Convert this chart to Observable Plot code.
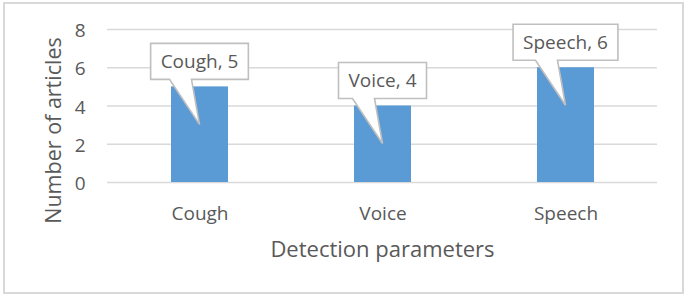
<!DOCTYPE html>
<html><head><meta charset="utf-8">
<script src="https://cdn.jsdelivr.net/npm/d3@7"></script>
<script src="https://cdn.jsdelivr.net/npm/@observablehq/plot@0.6"></script>
<style>
body{margin:0;background:#fff;}
#wrap{position:relative;width:688px;height:297px;overflow:hidden;}
#border{position:absolute;left:3px;top:2px;width:677px;height:288px;border:2px solid #d9d9d9;pointer-events:none;}
</style></head><body>
<div id="wrap"><div id="chart"></div><div id="border"></div></div>
<script>
const categories = ["Cough", "Voice", "Speech"];
const counts = [5, 4, 6];
const yTicks = [0, 2, 4, 6, 8];
const xTitle = "Detection parameters";
const yTitle = "Number of articles";

const data = categories.map((c, i) => ({category: c, count: counts[i], label: `${c}, ${counts[i]}`}));

const FONT = "'Open Sans', 'Noto Sans', sans-serif";
const TEXT = "#595959";
const CALLOUT_FS = 19;

function callouts(index, scales, values, dims) {
  const ctx = document.createElement("canvas").getContext("2d");
  ctx.font = `${CALLOUT_FS}px 'Open Sans'`;
  const g = d3.create("svg:g");
  const bw = scales.x.bandwidth ? scales.x.bandwidth() : 0;
  for (const d of data) {
    const cx = scales.x(d.category) + bw / 2;
    const yv = scales.y(d.count);
    const w = ctx.measureText(d.label).width + 20;
    const top = yv - 43, h = 36, bottom = top + h;
    const left = cx - w / 2, right = cx + w / 2;
    const tipY = yv + 38;
    const b1 = cx - 30, b2 = cx - 8;
    g.append("path")
      .attr("d", `M${left},${top}H${right}V${bottom}H${b2}L${cx},${tipY}L${b1},${bottom}H${left}Z`)
      .attr("fill", "#fff")
      .attr("stroke", "#bfbfbf")
      .attr("stroke-width", 1.6)
      .attr("stroke-linejoin", "miter");
    g.append("text")
      .attr("x", cx)
      .attr("y", top + h / 2)
      .attr("dy", "0.36em")
      .attr("text-anchor", "middle")
      .attr("font-size", CALLOUT_FS)
      .attr("fill", TEXT)
      .text(d.label);
  }
  return g.node();
}

const chart = Plot.plot({
  width: 688,
  height: 297,
  marginLeft: 107,
  marginRight: 31,
  marginTop: 29,
  marginBottom: 115,
  style: {fontFamily: FONT, color: TEXT, background: "transparent"},
  x: {domain: categories, paddingInner: 0.689, paddingOuter: 0.343, axis: null},
  y: {domain: [0, 8], axis: null},
  marks: [
    Plot.gridY(yTicks, {stroke: "#d9d9d9", strokeOpacity: 1, strokeWidth: 1.5}),
    Plot.barY(data, {x: "category", y: "count", fill: "#5B9BD5"}),
    Plot.text(yTicks, {y: d => d, text: d => String(d), frameAnchor: "left", textAnchor: "end", dx: -22, dy: 1.5, fontSize: 19, fill: TEXT}),
    Plot.text(data, {x: "category", text: "category", frameAnchor: "bottom", textAnchor: "middle", lineAnchor: "bottom", dy: 37, fontSize: 19, fill: TEXT}),
    Plot.text([xTitle], {frameAnchor: "bottom", textAnchor: "middle", lineAnchor: "bottom", dy: 74, fontSize: 22, fill: TEXT}),
    Plot.text([yTitle], {frameAnchor: "left", textAnchor: "middle", rotate: -90, lineAnchor: "bottom", dx: -47, dy: 24.5, fontSize: 21.5, fill: TEXT}),
    callouts
  ]
});
document.getElementById("chart").appendChild(chart);
</script>
</body></html>
